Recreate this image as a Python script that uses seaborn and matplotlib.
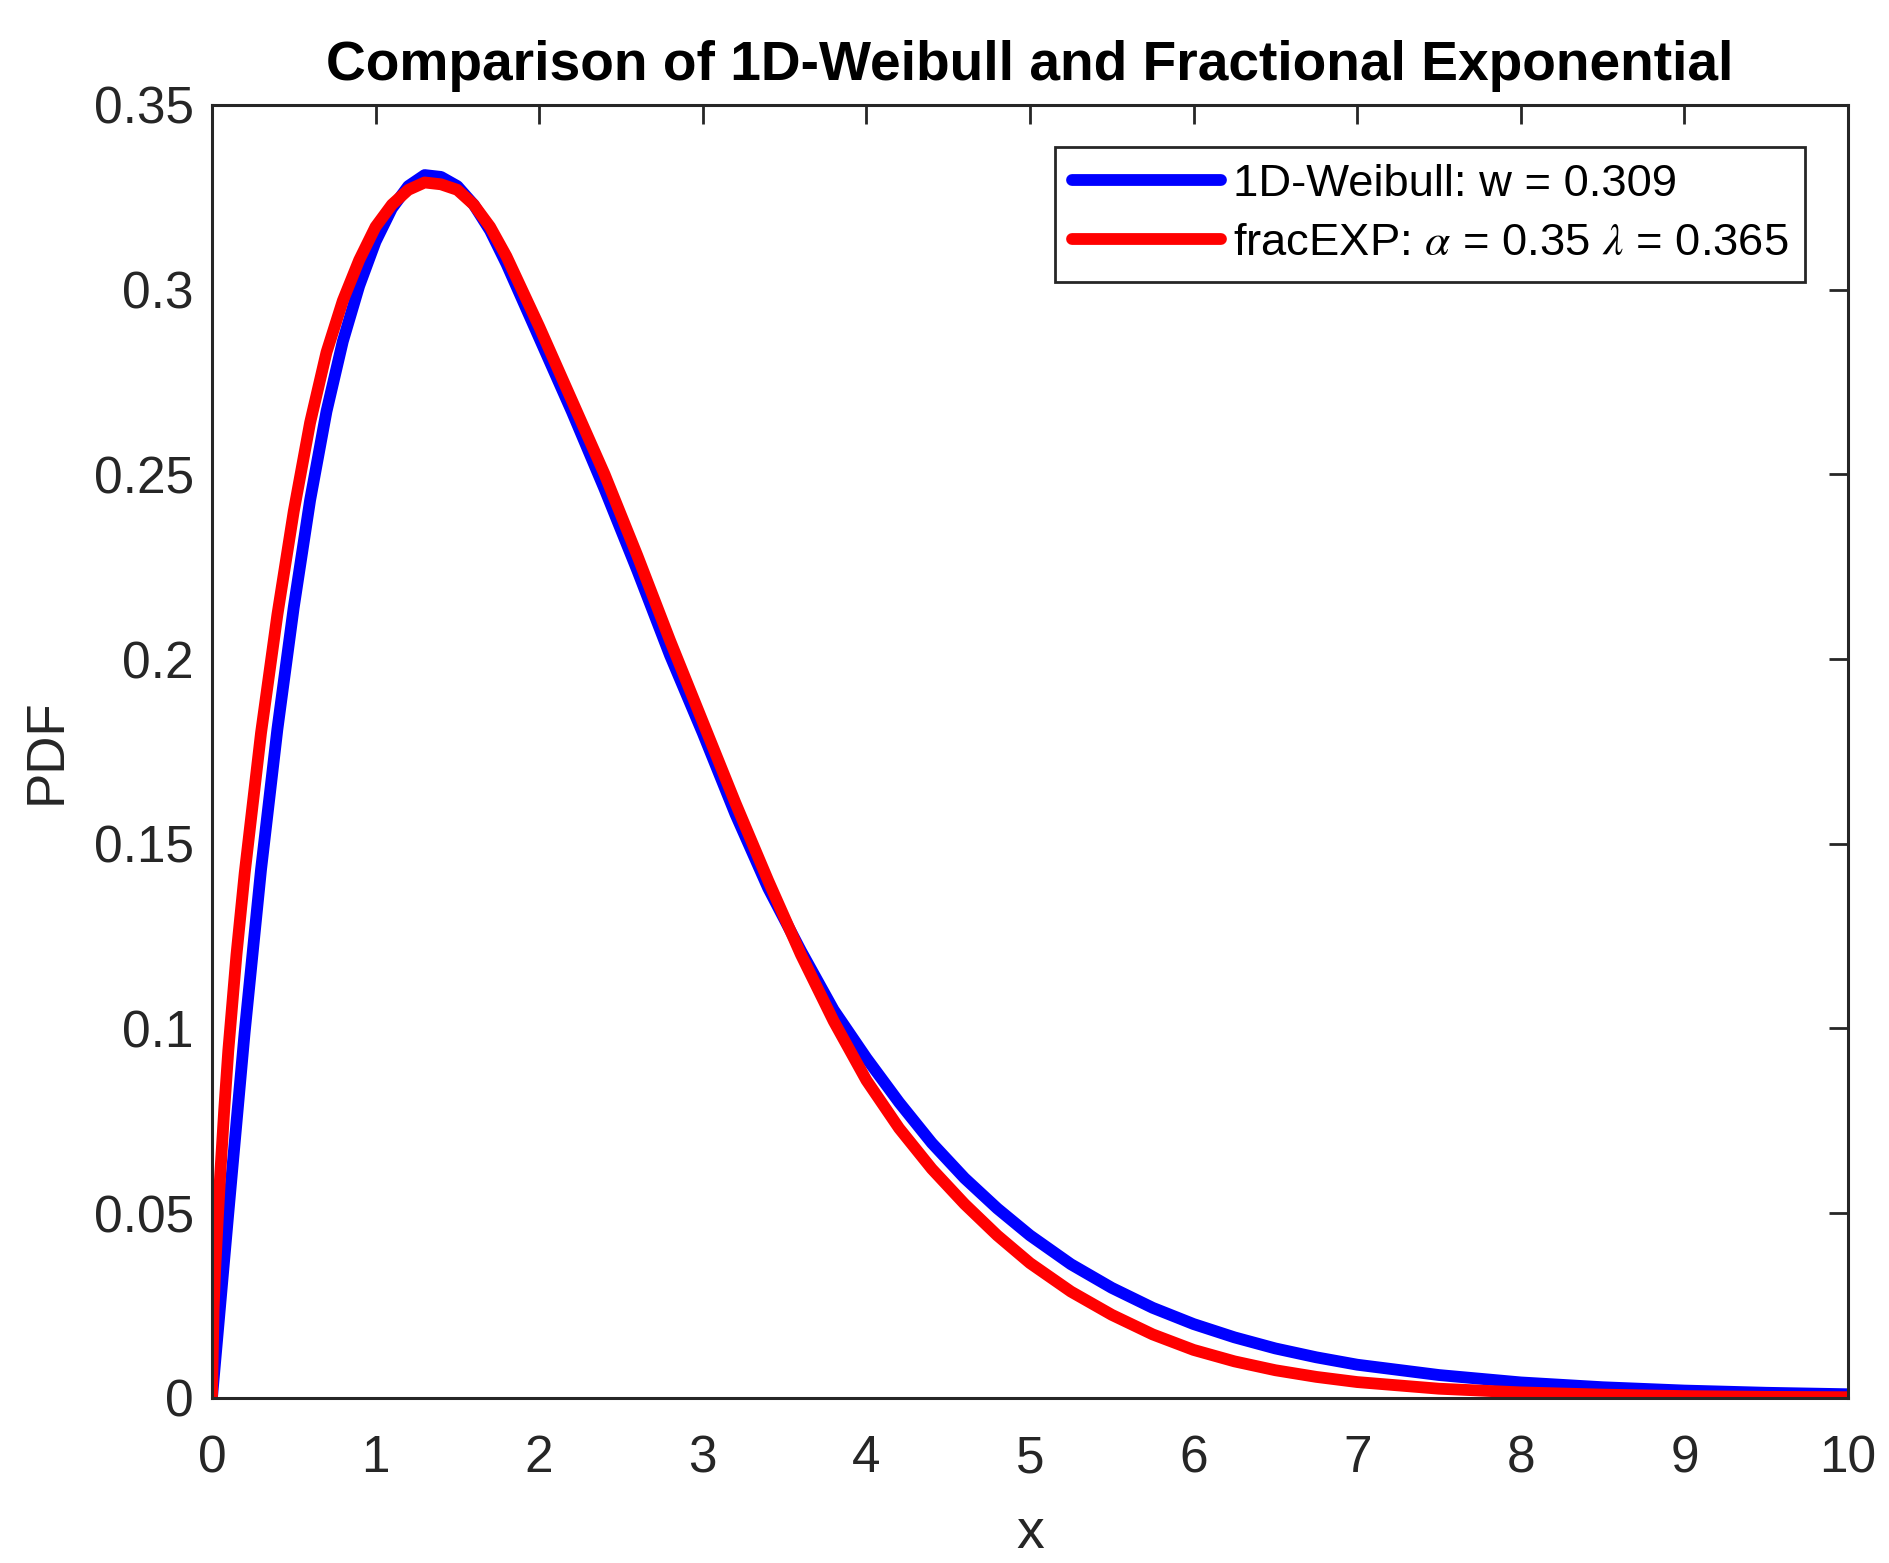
import matplotlib
matplotlib.use("Agg")
import matplotlib.pyplot as plt
import seaborn as sns

# values
x_weibull = [0, 0.1, 0.2, 0.3, 0.4, 0.5, 0.6, 0.7, 0.8, 0.9, 1.0, 1.1, 1.2, 1.3, 1.4,
             1.5, 1.6, 1.7, 1.8, 1.9, 2.0, 2.2, 2.4, 2.6, 2.8, 3.0, 3.2, 3.4, 3.6, 3.8,
             4.0, 4.2, 4.4, 4.6, 4.8, 5.0, 5.25, 5.5, 5.75, 6.0, 6.25, 6.5, 6.75, 7.0,
             7.5, 8.0, 8.5, 9.0, 9.5, 10.0]
pdf_weibull = [0, 0.050, 0.099, 0.143, 0.181, 0.214, 0.243, 0.267, 0.286, 0.301, 0.313,
               0.322, 0.328, 0.331, 0.3305, 0.328, 0.323, 0.316, 0.307, 0.297, 0.287,
               0.267, 0.246, 0.224, 0.201, 0.180, 0.158, 0.138, 0.121, 0.105, 0.092,
               0.080, 0.069, 0.0595, 0.0513, 0.0440, 0.0362, 0.0298, 0.0244, 0.0200,
               0.0164, 0.0134, 0.0110, 0.0090, 0.0062, 0.0042, 0.0029, 0.0020, 0.0014,
               0.0010]

x_fracexp = [0, 0.01, 0.02, 0.035, 0.05, 0.075, 0.1, 0.15, 0.2, 0.3, 0.4, 0.5, 0.6, 0.7,
             0.8, 0.9, 1.0, 1.1, 1.2, 1.3, 1.4, 1.5, 1.6, 1.7, 1.8, 1.9, 2.0, 2.2, 2.4,
             2.6, 2.8, 3.0, 3.2, 3.4, 3.6, 3.8, 4.0, 4.2, 4.4, 4.6, 4.8, 5.0, 5.25, 5.5,
             5.75, 6.0, 6.25, 6.5, 6.75, 7.0, 7.5, 8.0, 8.5, 9.0, 9.5, 10.0]
pdf_fracexp = [0, 0.024, 0.035, 0.048, 0.060, 0.078, 0.094, 0.120, 0.142, 0.180, 0.212,
               0.240, 0.264, 0.283, 0.297, 0.308, 0.317, 0.323, 0.327, 0.329, 0.3285,
               0.327, 0.323, 0.317, 0.309, 0.2995, 0.290, 0.270, 0.250, 0.228, 0.205,
               0.183, 0.161, 0.140, 0.120, 0.102, 0.086, 0.073, 0.062, 0.0525, 0.0440,
               0.0365, 0.0288, 0.0225, 0.0172, 0.0130, 0.0099, 0.0075, 0.0057, 0.0043,
               0.0025, 0.0015, 0.0009, 0.0005, 0.0003, 0.0002]

x_ticks = list(range(0, 11))
y_ticks = [0, 0.05, 0.1, 0.15, 0.2, 0.25, 0.3, 0.35]
y_tick_labels = ["0", "0.05", "0.1", "0.15", "0.2", "0.25", "0.3", "0.35"]

label_weibull = "1D-Weibull: w = 0.309"
label_fracexp = r"fracEXP: $\alpha$ = 0.35 $\lambda$ = 0.365"

sns.set_theme(style="white")
plt.rcParams["font.family"] = ["Liberation Sans", "DejaVu Sans"]
plt.rcParams["mathtext.fontset"] = "stix"

axis_color = "#262626"

fig = plt.figure(figsize=(18.89, 15.63), dpi=100)
ax = fig.add_axes([0.1122, 0.1056, 0.8661, 0.8273])

sns.lineplot(x=x_weibull, y=pdf_weibull, color="#0000ff", lw=8.5,
             label=label_weibull, ax=ax)
sns.lineplot(x=x_fracexp, y=pdf_fracexp, color="#ff0000", lw=8.5,
             label=label_fracexp, ax=ax)

ax.set_xlim(0, 10)
ax.set_ylim(0, 0.35)
ax.set_xticks(x_ticks)
ax.set_yticks(y_ticks)
ax.set_yticklabels(y_tick_labels)
ax.tick_params(direction="in", length=13.7, width=2, top=True, right=True,
               labelsize=37, colors=axis_color, labelcolor=axis_color)
ax.tick_params(axis="y", pad=13)
ax.tick_params(axis="x", pad=26)
for sp in ax.spines.values():
    sp.set_linewidth(2.2)
    sp.set_color(axis_color)

ax.set_xlabel("x", fontsize=40, color=axis_color, labelpad=18)
ax.set_ylabel("PDF", fontsize=38, color=axis_color, labelpad=16)
ax.set_title("Comparison of 1D-Weibull and Fractional Exponential",
             fontsize=39.7, fontweight="bold", color="black", pad=18)

leg = ax.legend(loc="upper right", bbox_to_anchor=(0.974, 0.9675), borderaxespad=0,
                fontsize=32.7, frameon=True, fancybox=False, framealpha=1,
                edgecolor=axis_color, handlelength=3.28, borderpad=0.38,
                labelspacing=0.4, handletextpad=0.25)
leg.get_frame().set_linewidth(2)
for t in leg.get_texts():
    t.set_color("black")

fig.savefig("out.png", dpi=100)
